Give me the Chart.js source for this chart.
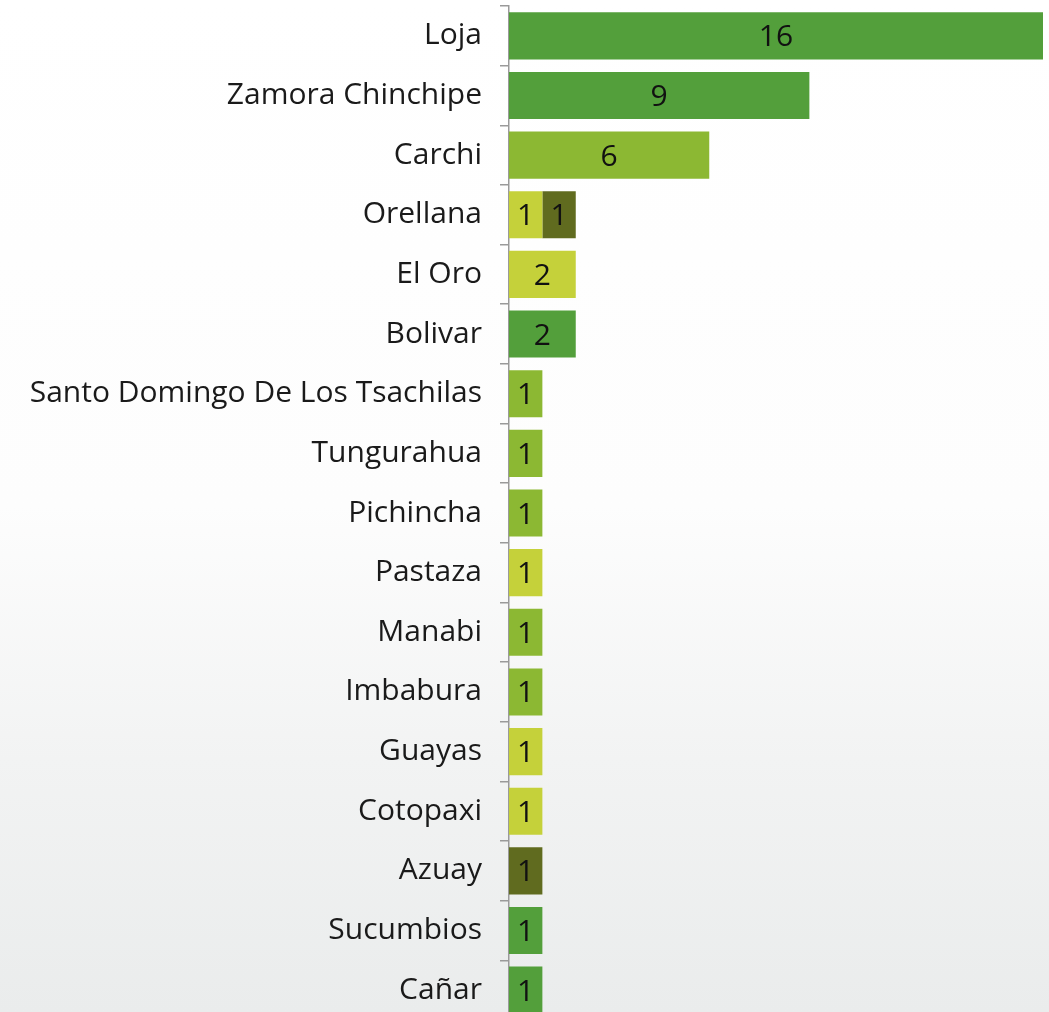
<!DOCTYPE html>
<html>
<head>
<meta charset="utf-8">
<script src="https://cdn.jsdelivr.net/npm/chart.js@4/dist/chart.umd.min.js"></script>
<style>
  html, body { margin: 0; padding: 0; overflow: hidden; }
  body {
    width: 1049px; height: 1012px;
    background: linear-gradient(to bottom, #ffffff 0%, #fdfdfd 50%, #f2f3f3 75%, #eaecec 100%);
  }
  #wrap { position: relative; width: 1049px; height: 1020px; }
</style>
</head>
<body>
<div id="wrap"><canvas id="chart"></canvas></div>
<script>
// provincias (de arriba hacia abajo)
const provincias = ['Loja', 'Zamora Chinchipe', 'Carchi', 'Orellana', 'El Oro', 'Bolivar',
  'Santo Domingo De Los Tsachilas', 'Tungurahua', 'Pichincha', 'Pastaza', 'Manabi',
  'Imbabura', 'Guayas', 'Cotopaxi', 'Azuay', 'Sucumbios', 'Cañar'];

// valores por color de barra
const verdeOscuro   = [16, 9, null, null, null, 2, null, null, null, null, null, null, null, null, null, 1, 1];
const verdeMedio    = [null, null, 6, null, null, null, 1, 1, 1, null, 1, 1, null, null, null, null, null];
const verdeAmarillo = [null, null, null, 1, 2, null, null, null, null, 1, null, null, 1, 1, null, null, null];
const oliva         = [null, null, null, 1, null, null, null, null, null, null, null, null, null, null, 1, null, null];

const fuente = "'Open Sans', sans-serif";

// dibuja el valor en el centro de cada barra
const etiquetas = {
  id: 'etiquetas',
  afterDatasetsDraw(chart) {
    const ctx = chart.ctx;
    ctx.save();
    ctx.font = '30px ' + fuente;
    ctx.fillStyle = '#111';
    ctx.textAlign = 'center';
    ctx.textBaseline = 'middle';
    chart.data.datasets.forEach((ds, i) => {
      const meta = chart.getDatasetMeta(i);
      meta.data.forEach((bar, j) => {
        const v = ds.data[j];
        if (v == null) return;
        const p = bar.getProps(['x', 'y', 'base'], true);
        ctx.fillText(String(v), (p.x + p.base) / 2, p.y + 2);
      });
    });
    ctx.restore();
  }
};

new Chart(document.getElementById('chart'), {
  type: 'bar',
  data: {
    labels: provincias,
    datasets: [
      { label: 'a', data: verdeOscuro, backgroundColor: '#539f3b' },
      { label: 'b', data: verdeMedio, backgroundColor: '#8cb833' },
      { label: 'c', data: verdeAmarillo, backgroundColor: '#c5d13a' },
      { label: 'd', data: oliva, backgroundColor: '#606b1f' }
    ]
  },
  options: {
    indexAxis: 'y',
    responsive: true,
    maintainAspectRatio: false,
    animation: false,
    layout: { padding: { top: 6, right: 6, bottom: 0, left: 0 } },
    datasets: { bar: { categoryPercentage: 1, barPercentage: 0.79 } },
    plugins: { legend: { display: false }, tooltip: { enabled: false } },
    scales: {
      x: { stacked: true, display: false, min: 0, max: 16 },
      y: {
        stacked: true,
        afterFit: (s) => { s.width = 509; s.paddingTop = 0; s.paddingBottom = 0; },
        border: { display: true, color: '#9a9a9a', width: 1.5 },
        grid: { offset: true, drawOnChartArea: false, drawTicks: true, tickLength: 9, color: '#9a9a9a', lineWidth: 1.5 },
        ticks: { color: '#1a1a1a', padding: 18, font: { family: fuente, size: 30 } }
      }
    }
  },
  plugins: [etiquetas]
});
</script>
</body>
</html>
